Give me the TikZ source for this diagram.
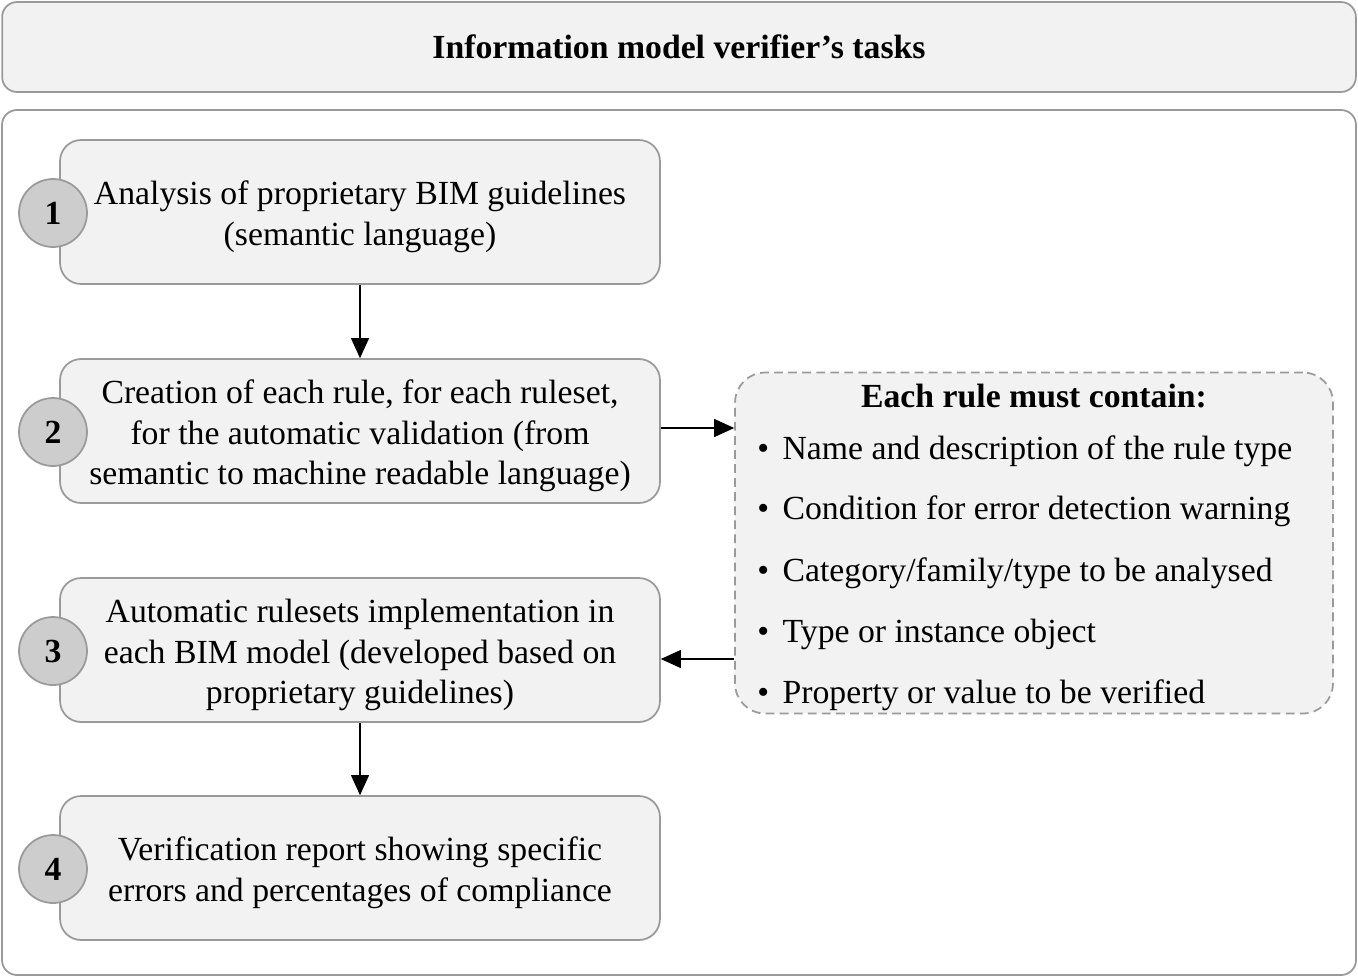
\documentclass[tikz,border=0pt]{standalone}
\usepackage{fontspec}
\setmainfont{Liberation Serif}
\usetikzlibrary{arrows.meta}
\definecolor{boxfill}{HTML}{F2F2F2}
\definecolor{boxline}{HTML}{9A9A9A}
\definecolor{numfill}{HTML}{CDCDCD}
\newcommand*{\stx}{360}
\newcommand*{\numx}{53}
\newcommand*{\topgap}{\rule{0pt}{19pt}}

\begin{document}
\begin{tikzpicture}[x=0.02cm, y=-0.02cm,
    font=\fontsize{19.2}{23.2}\selectfont,
    frame/.style={draw=boxline, line width=1pt, rounded corners=0.3cm},
    stepbox/.style={draw=boxline, fill=boxfill, line width=1pt, rounded corners=0.42cm,
        minimum width=12cm, minimum height=2.88cm, text width=11.8cm, align=flush center, inner sep=0pt},
    numdot/.style={circle, draw=boxline, fill=numfill, line width=1pt, minimum size=1.36cm,
        inner sep=0pt, font=\fontsize{19.2}{22}\selectfont\bfseries},
    rulebox/.style={draw=boxline, fill=boxfill, line width=1pt, dashed, dash pattern=on 5pt off 3pt,
        rounded corners=0.6cm, minimum width=11.96cm, minimum height=6.82cm},
    flow/.style={-{Triangle[length=0.4cm, width=0.36cm]}, line width=0.6pt}]
    \useasboundingbox (0,0) rectangle (1358,978);
    % header and frame
    \node [frame, fill=boxfill, minimum width=27.08cm, minimum height=1.8cm,
        font=\fontsize{19.2}{22}\selectfont\bfseries] (title) at (679,47) {Information model verifier’s tasks};
    \draw [frame] (2,110) rectangle (1356,975);
    % the four steps
    \node [stepbox] (s1) at (\stx,212) {\topgap Analysis of proprietary BIM guidelines\\(semantic language)};
    \node [stepbox] (s2) at (\stx,431) {\topgap Creation of each rule, for each ruleset,\\for the automatic validation (from\\semantic to machine readable language)};
    \node [stepbox] (s3) at (\stx,650) {\topgap Automatic rulesets implementation in\\each BIM model (developed based on\\proprietary guidelines)};
    \node [stepbox] (s4) at (\stx,868) {\topgap Verification report showing specific\\errors and percentages of compliance};
    \foreach \i/\y in {1/213, 2/432, 3/651, 4/869}
        \node [numdot] (n\i) at (\numx,\y) {\i};
    % rule contents
    \node [rulebox] (rules) at (1034,543) {};
    \node [font=\fontsize{19.2}{22}\selectfont\bfseries] (rhead) at (1034,396) {Each rule must contain:};
    \foreach \y/\t [count=\k] in {451/{Name and description of the rule type},
                                 511/{Condition for error detection warning},
                                 573/{Category/family/type to be analysed},
                                 634/{Type or instance object},
                                 695/{Property or value to be verified}}
        \node [anchor=west, inner sep=0pt] (r\k) at (757,\y) {\textbullet\hspace{0.4em}\t};
    % connectors
    \draw [flow] (s1.south) -- (s2.north);
    \draw [flow] (s3.south) -- (s4.north);
    \draw [flow] ([yshift=0.06cm]s2.east) -- ([yshift=0.06cm]s2.east -| rules.west);
    \draw [flow] ([yshift=-0.18cm]rules.west |- s3.east) -- ([yshift=-0.18cm]s3.east);
\end{tikzpicture}
\end{document}
